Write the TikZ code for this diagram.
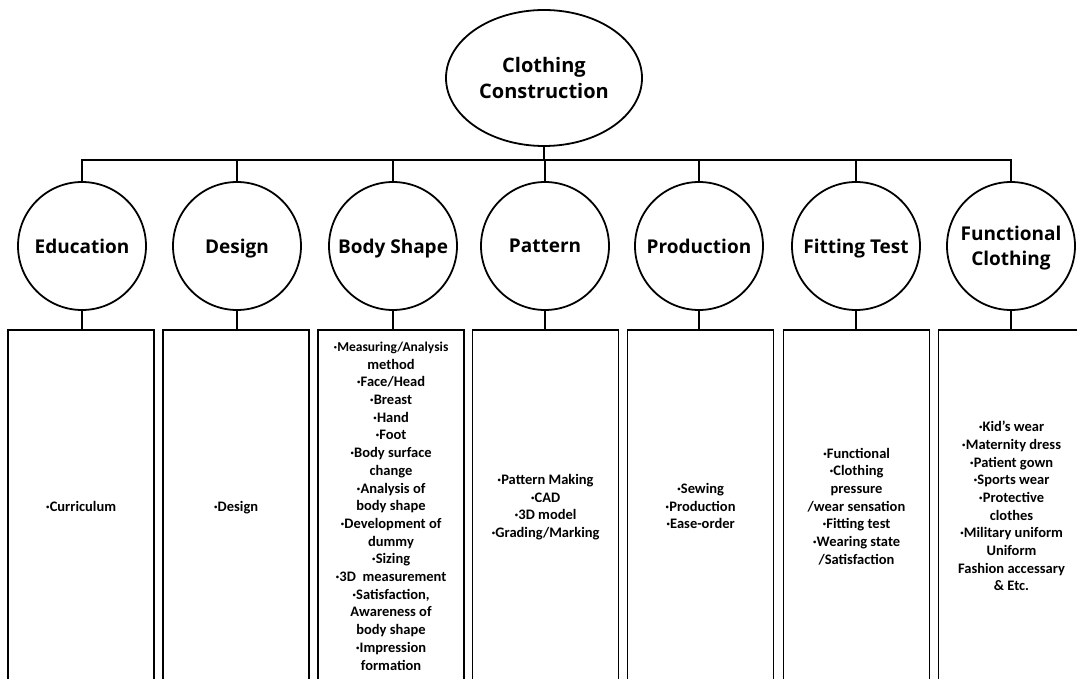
\documentclass[tikz,border=0pt]{standalone}
\usepackage{fontspec}
\setmainfont{Carlito}
\newfontfamily\headfont{Open Sans}
\usetikzlibrary{shapes.geometric}
\newcommand{\smallitem}{\fontsize{13.5}{16.5}\selectfont}
\newcommand{\normitem}{\fontsize{14.5}{17.7}\selectfont}
\begin{document}
\begin{tikzpicture}[x=1pt,y=-1pt,
  conn/.style={line width=1.8pt},
  topnode/.style={ellipse, draw, line width=1.8pt, minimum width=196pt, minimum height=136pt, inner sep=0pt, text depth=0pt, align=center, font=\headfont\bfseries\fontsize{20}{26}\selectfont},
  catnode/.style={circle, draw, line width=1.8pt, minimum size=128pt, inner sep=0pt, text depth=0pt, align=center, font=\headfont\bfseries\fontsize{19}{25}\selectfont},
  listbox/.style={rectangle, draw, line width=1.8pt, minimum width=146pt, minimum height=352pt, inner sep=0pt, text depth=0pt, align=center, font=\bfseries\normitem}
]
\useasboundingbox (0,0) rectangle (1077,679);
\clip (0,0) rectangle (1077,679);

\node[topnode] (root) at (544,78) {Clothing\\Construction};

\node[catnode] (c1) at (82,246) {Education};
\node[catnode] (c2) at (237,246) {Design};
\node[catnode] (c3) at (393,246) {Body Shape};
\node[catnode] (c4) at (545,246) {Pattern};
\node[catnode] (c5) at (699,246) {Production};
\node[catnode] (c6) at (856,246) {Fitting Test};
\node[catnode] (c7) at (1011,246) {Functional\\Clothing};

\node[listbox] (b1) at (81,506) {·Curriculum};
\node[listbox] (b2) at (236,506) {·Design};
\node[listbox] (b3) at (391,506) {\smallitem ·Measuring/Analysis\\method\\\normitem ·Face/Head\\·Breast\\·Hand\\·Foot\\·Body surface\\change\\·Analysis of\\body shape\\·Development of\\dummy\\·Sizing\\·3D\ \ measurement\\·Satisfaction,\\Awareness of\\body shape\\·Impression\\formation};
\node[listbox] (b4) at (545.5,506) {·Pattern Making\\·CAD\\·3D model\\·Grading/Marking};
\node[listbox] (b5) at (700.5,506) {·Sewing\\·Production\\·Ease-order};
\node[listbox] (b6) at (856.5,506) {·Functional\\·Clothing\\pressure\\/wear sensation\\·Fitting test\\·Wearing state\\/Satisfaction};
\node[listbox] (b7) at (1011.5,506) {·Kid’s wear\\·Maternity dress\\·Patient gown\\·Sports wear\\·Protective\\clothes\\·Military uniform\\Uniform\\Fashion accessary\\\& Etc.};

\coordinate (bar) at (0,160);
\draw[conn] (root.south) -- (root.south |- bar);
\draw[conn] (c1.north) -- (c1.north |- bar) -- (c7.north |- bar) -- (c7.north);
\foreach \i in {2,...,6} {
  \draw[conn] (c\i.north) -- (c\i.north |- bar);
}
\foreach \i in {1,...,7} {
  \draw[conn] (c\i.south) -- (c\i.south |- b\i.north);
}
\end{tikzpicture}
\end{document}
